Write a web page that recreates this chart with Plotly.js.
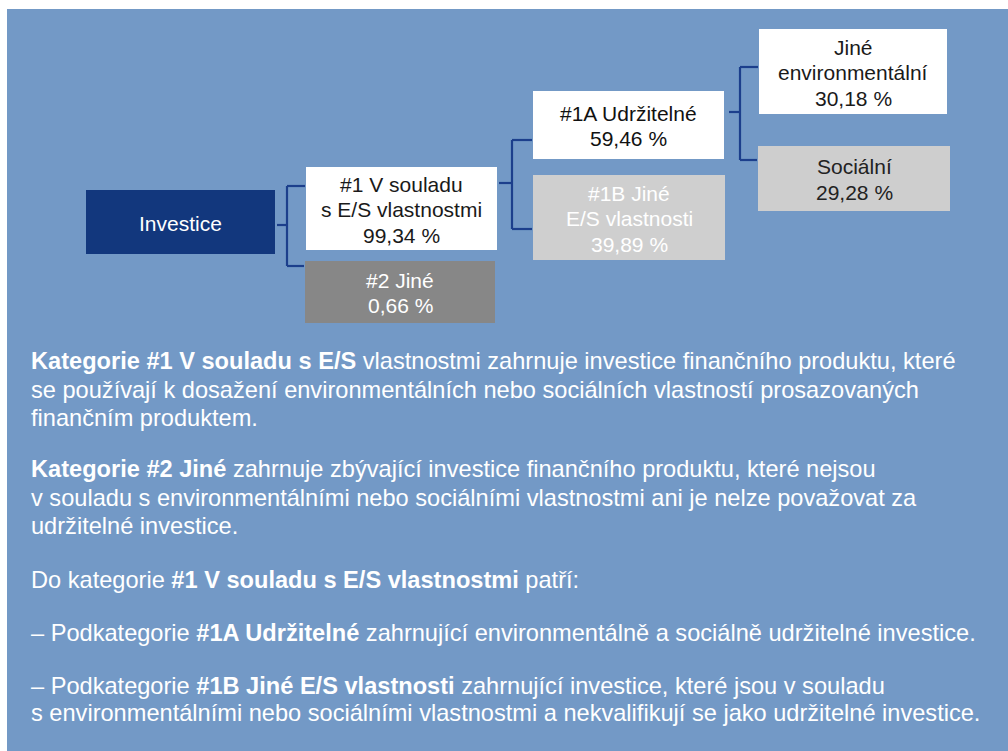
<!DOCTYPE html>
<html>
<head>
<meta charset="utf-8">
<script src="https://cdn.plot.ly/plotly-3.0.1.min.js"></script>
<style>html,body{margin:0;padding:0;background:#fff;}#chart{width:1008px;height:751px;}</style>
</head>
<body>
<div id="chart"></div>
<script>
// ---- data ----
const nodeLabels = ['Investice', '#1 V souladu<br>s E/S vlastnostmi', '#2 Jiné', '#1A Udržitelné', '#1B Jiné<br>E/S vlastnosti', 'Jiné<br>environmentální', 'Sociální'];
const nodeValues = [null, 99.34, 0.66, 59.46, 39.89, 30.18, 29.28];
const nodeParents = [null, 0, 0, 1, 1, 3, 3];

const bodyLines = [
  '<b>Kategorie #1 V souladu s E/S</b> vlastnostmi zahrnuje investice finančního produktu, které',
  'se používají k dosažení environmentálních nebo sociálních vlastností prosazovaných',
  'finančním produktem.',
  '<b>Kategorie #2 Jiné</b> zahrnuje zbývající investice finančního produktu, které nejsou',
  'v souladu s environmentálními nebo sociálními vlastnostmi ani je nelze považovat za',
  'udržitelné investice.',
  'Do kategorie <b>#1 V souladu s E/S vlastnostmi</b> patří:',
  '– Podkategorie <b>#1A Udržitelné</b> zahrnující environmentálně a sociálně udržitelné investice.',
  '– Podkategorie <b>#1B Jiné E/S vlastnosti</b> zahrnující investice, které jsou v souladu',
  's environmentálními nebo sociálními vlastnostmi a nekvalifikují se jako udržitelné investice.'
];

// ---- layout / style (positions in pixel space) ----
const boxGeom = [ // [x0, x1, y0, y1]
  [86, 275, 190, 254],
  [306, 497, 167, 250],
  [305, 495, 261, 323],
  [533, 724, 91, 159],
  [533, 725, 175, 260],
  [759, 947, 29, 114],
  [758, 950, 146, 211]
];
const boxFill = ['#12377d', '#ffffff', '#878787', '#ffffff', '#cfcfcf', '#ffffff', '#cecece'];
const boxText = ['#ffffff', '#1a1a1a', '#ffffff', '#111111', '#ffffff', '#1a1a1a', '#222222'];
const connectors = {
  0: {stubY: 225, spineX: 287, x0: 277},
  1: {stubY: 183, spineX: 512, x0: 499},
  3: {stubY: 112, spineX: 740, x0: 729}
};
const childY = {1: 186, 2: 266, 3: 140, 4: 229, 5: 67, 6: 160};
const bodyY = [361, 390, 418, 469, 498, 526, 580, 633, 686, 713];
const boxLineGap = 25.5;

const lineColor = '#1c3f8c';
const panelColor = '#7399c6';
const fontFam = 'Arial, Liberation Sans, sans-serif';

function fmt(v) { return v.toFixed(2).replace('.', ',') + ' %'; }

const shapes = [];
const annotations = [];

shapes.push({type: 'rect', xref: 'x', yref: 'y', x0: 7, x1: 1008, y0: 9, y1: 751,
  fillcolor: panelColor, line: {width: 0}, layer: 'below'});

nodeLabels.forEach((lab, i) => {
  const g = boxGeom[i];
  shapes.push({type: 'rect', xref: 'x', yref: 'y', x0: g[0], x1: g[1], y0: g[2], y1: g[3],
    fillcolor: boxFill[i], line: {width: 0}});
  const lines = lab.split('<br>');
  if (nodeValues[i] !== null) lines.push(fmt(nodeValues[i]));
  const cy = (g[2] + g[3]) / 2 + 1;
  lines.forEach((ln, j) => {
    annotations.push({x: (g[0] + g[1]) / 2, y: cy + (j - (lines.length - 1) / 2) * boxLineGap,
      xref: 'x', yref: 'y', text: ln, showarrow: false, xanchor: 'center', yanchor: 'middle',
      font: {family: fontFam, size: 21, color: boxText[i]}});
  });
});

Object.keys(connectors).forEach(p => {
  const c = connectors[p];
  const kids = nodeParents.map((q, i) => q === +p ? i : -1).filter(i => i >= 0);
  const ys = kids.map(k => childY[k]);
  const ln = {color: lineColor, width: 2.2};
  shapes.push({type: 'line', xref: 'x', yref: 'y', x0: c.x0, x1: c.spineX, y0: c.stubY, y1: c.stubY, line: ln});
  shapes.push({type: 'line', xref: 'x', yref: 'y', x0: c.spineX, x1: c.spineX, y0: Math.min(...ys), y1: Math.max(...ys), line: ln});
  kids.forEach(k => {
    shapes.push({type: 'line', xref: 'x', yref: 'y', x0: c.spineX, x1: boxGeom[k][0] - 1, y0: childY[k], y1: childY[k], line: ln});
  });
});

bodyLines.forEach((t, i) => {
  annotations.push({x: 29, y: bodyY[i], xref: 'x', yref: 'y', text: t, showarrow: false,
    xanchor: 'left', yanchor: 'middle', align: 'left',
    font: {family: fontFam, size: 23.6, color: '#ffffff'}});
});

const layout = {
  width: 1008, height: 751,
  margin: {l: 0, r: 0, t: 0, b: 0, pad: 0},
  paper_bgcolor: '#ffffff', plot_bgcolor: 'rgba(0,0,0,0)',
  xaxis: {range: [0, 1008], visible: false, fixedrange: true},
  yaxis: {range: [751, 0], visible: false, fixedrange: true},
  shapes: shapes, annotations: annotations, showlegend: false
};

Plotly.newPlot('chart', [{x: [], y: [], type: 'scatter', hoverinfo: 'skip'}], layout, {displayModeBar: false, staticPlot: true});
</script>
</body>
</html>
